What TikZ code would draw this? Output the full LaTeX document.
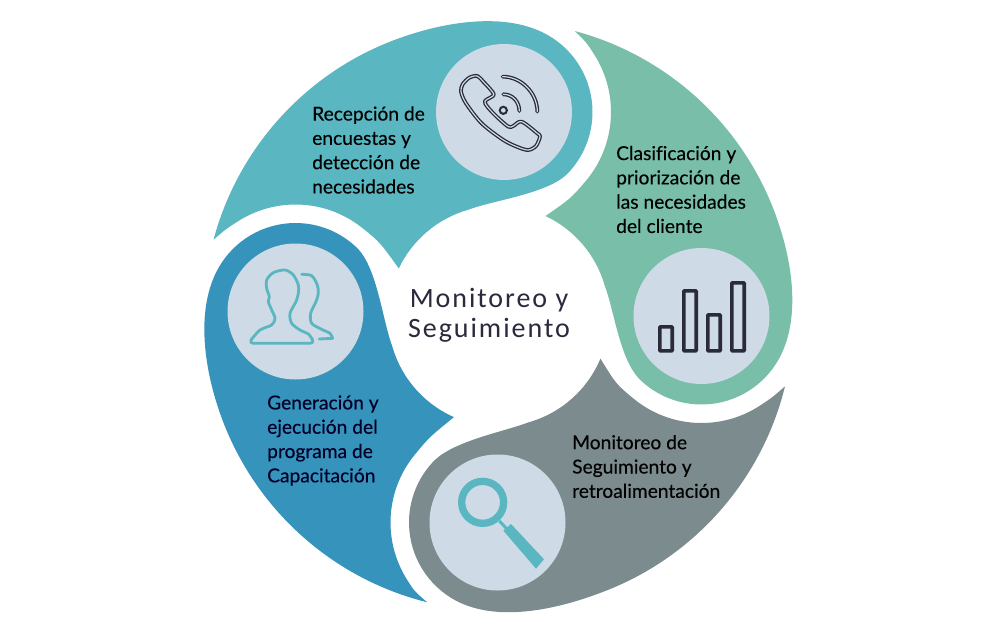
\documentclass[tikz,border=0pt]{standalone}
\usepackage{fontspec}
\setmainfont[FakeBold=0.25,Ligatures=CommonOff]{Lato}
\newfontfamily\titlefont[LetterSpace=7]{Carlito}
\definecolor{cteal}{HTML}{5AB6C1}
\definecolor{cgreen}{HTML}{78BEA8}
\definecolor{cgray}{HTML}{7C8C8E}
\definecolor{cblue}{HTML}{3593BC}
\definecolor{clight}{HTML}{CEDAE6}
\definecolor{cdark}{HTML}{2A2A3C}
\tikzset{
  disc/.style={circle,fill=clight,minimum size=136pt,inner sep=0pt},
  petaltext/.style={anchor=west,align=left,font=\fontsize{19.2}{24.3}\selectfont,text=black,inner sep=0pt},
  phoneline/.style={line width=3.8pt,cdark,line cap=round,line join=round},
  phonecore/.style={line width=1.2pt,clight,line cap=round,line join=round},
  iconteal/.style={line width=2.8pt,cteal,line join=round,line cap=round},
  barrect/.style={line width=3.6pt,cdark,rounded corners=0.8pt}
}
\usetikzlibrary{calc}
% #1 colour, #2 S centre, #3 N centre, #4 rotation, #5 outer tip angle (about C),
% #6 join angle, #7 start angle about N, #8 end angle about N, #9 inner tip angle about C
\newcommand{\petal}[9]{%
  \fill[#1] (C) ++(#5:295) arc[start angle=#5,end angle=#6+22,radius=295]
    .. controls ($(C)+(#6+22:295)+(#6-68:52)$) and ($(#2)+(#6-28:88.5)+(#6+62:48)$) .. ($(#2)+(#6-28:88.5)$)
    arc[start angle=#6-28,end angle=#4-45,radius=88.5]
    .. controls ($(#2)+(#4-62.9:92)$) and ($(C)+(#4+92.2:116)$) .. ($(C)+(#4+106:110.5)$)
    arc[start angle=#4+106,end angle=#9,radius=110.5]
    .. controls ($(#3)+(#7+28:107)+(#7-62:22)$) .. ($(#3)+(#7+28:107)$)
    arc[start angle=#7+28,end angle=#8-16,radius=107]
    .. controls ($(#3)+(#8-16:107)+(#8+74:14)$) .. ($(C)+(#5:295)$) -- cycle;
}
\begin{document}
\begin{tikzpicture}[x=1pt,y=1pt]
\useasboundingbox (0,-632) rectangle (996,0);
\fill[white] (0,-632) rectangle (996,0);
\coordinate (C) at (498.5,-316);
\coordinate (Steal) at (504,-112);
\coordinate (Sgreen) at (701.5,-316);
\coordinate (Sgray) at (497.5,-522.5);
\coordinate (Sblue) at (295.5,-311.5);

\petal{cteal}{Steal}{Sblue}{0}{165}{88.5}{23}{138.7}{154.5}
\petal{cgreen}{Sgreen}{Steal}{-90}{75}{0}{-68.7}{48.7}{64.8}
\petal{cgray}{Sgray}{Sgreen}{-180}{-13.8}{-90.3}{202.3}{319.3}{-22.7}
\petal{cblue}{Sblue}{Sgray}{-270}{-104}{-181.3}{112.4}{228}{-113.8}

\node[disc] (dteal) at (Steal) {};
\node[disc] (dgreen) at (Sgreen) {};
\node[disc] (dgray) at (Sgray) {};
\node[disc] (dblue) at (Sblue) {};

% phone icon
\begin{scope}[shift={(450,-65)},x=0.3333pt,y=-0.3333pt]
  \def\handset{plot[smooth cycle,tension=.5] coordinates {(82,33)(58,38)(38,58)(33,80)(48,115)(95,175)(160,225)(205,247)(235,255)(258,243)(270,215)(262,205)(215,170)(190,183)(175,185)(140,155)(112,125)(105,108)(130,92)(127,80)(100,50)}}
  \draw[phoneline] \handset;
  \draw[phonecore] \handset;
  \foreach \s in {phoneline,phonecore}{
    \draw[\s] (158,35) .. controls (215,35) and (262,85) .. (262,140);
    \draw[\s] (160,88) .. controls (188,88) and (208,110) .. (208,138);
  }
  \fill[cdark] (160,136) circle[radius=14];
  \fill[clight] (160,136) circle[radius=7];
\end{scope}

% people icon
\begin{scope}[shift={(240,-260)},x=0.3333pt,y=-0.3333pt]
  \draw[iconteal] plot[smooth,tension=.5] coordinates {(33,240)(60,210)(95,195)(105,175)(95,150)(85,125)(88,110)(80,85)(80,60)(100,38)(135,30)(160,45)(175,75)(175,100)(168,125)(150,160)(155,190)(180,210)(205,222)(218,240)};
  \draw[iconteal,line join=round] (33,240) .. controls (30,246) and (33,250) .. (40,250) -- (210,250) .. controls (217,250) and (220,246) .. (218,240);
  \draw[iconteal] plot[smooth,tension=.5] coordinates {(185,43)(215,47)(232,75)(235,100)(228,125)(212,160)(215,190)(245,208)(270,220)(278,235)};
  \draw[iconteal] (278,235) -- (238,237);
\end{scope}

% magnifier icon
\begin{scope}[shift={(450,-470)},x=0.3333pt,y=-0.3333pt]
  \draw[cteal,line width=7.3pt] (98,97) circle[radius=63];
  \draw[cteal,line width=3pt] (148,153) -- (172,178);
  \fill[cteal] (160,182) -- (183,162) -- (282,268) -- (258,296) -- cycle;
\end{scope}

% bars icon
\begin{scope}
  \draw[barrect] (659.8,-350.9) rectangle (672.2,-326.8);
  \draw[barrect] (683.8,-350.9) rectangle (696.2,-290.8);
  \draw[barrect] (707.8,-350.9) rectangle (720.2,-314.8);
  \draw[barrect] (731.8,-350.9) rectangle (744.2,-282.8);
\end{scope}

\node[petaltext] (t1) at (312,-150) {Recepción de\\encuestas y\\detección de\\necesidades};
\node[petaltext] (t2) at (616,-189.5) {Clasificación y\\priorización de\\las necesidades\\del cliente};
\node[petaltext] (t3) at (572,-466.5) {Monitoreo de\\Seguimiento y\\retroalimentación};
\node[petaltext,text=black!85!blue] (t4) at (267,-440.5) {Generación y\\ejecución del\\programa de\\Capacitación};
\node[align=center,inner sep=0pt,text=cdark,font=\titlefont\fontsize{28}{30}\selectfont] (title) at (489,-315) {Monitoreo y\\Seguimiento};
\end{tikzpicture}
\end{document}
